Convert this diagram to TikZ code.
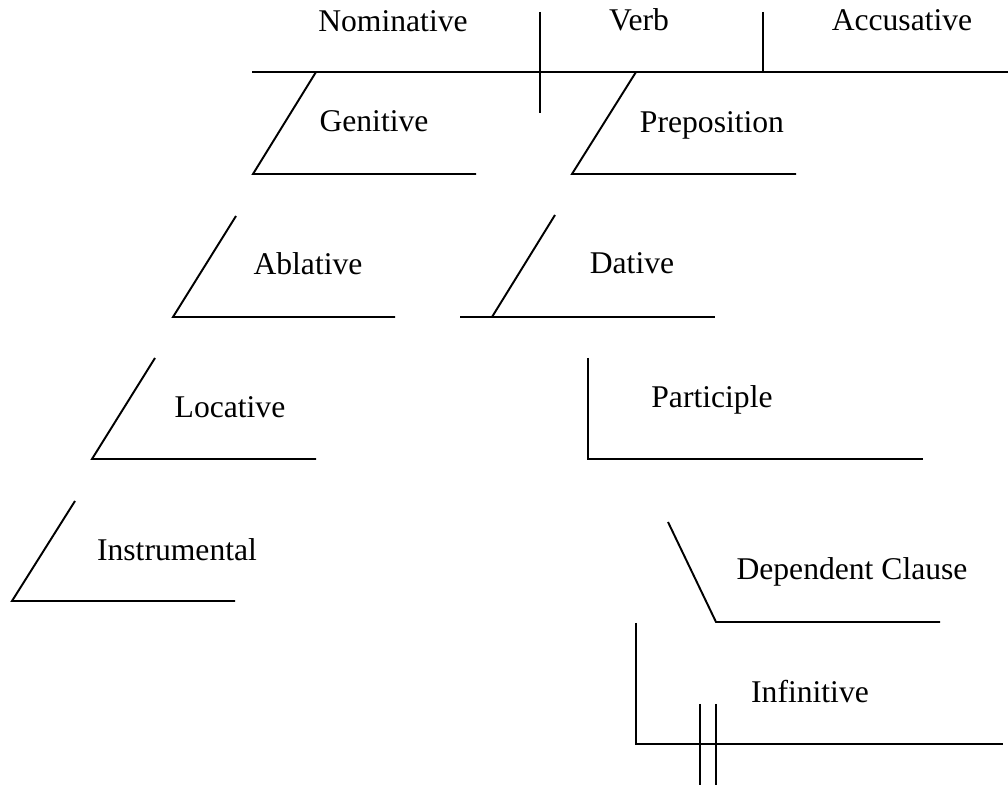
\documentclass[tikz,border=0pt]{standalone}
\usepackage{fontspec}
\setmainfont{Liberation Serif}
\usepackage{tikz}
\usetikzlibrary{calc, positioning}

\begin{document}
\begin{tikzpicture}[
  x=0.02cm, y=-0.02cm,
  every node/.style={font=\fontsize{18}{20}\selectfont, anchor=base, inner sep=0pt},
  rule/.style={draw, line width=1.1pt, line join=miter},
  word/.style={text=black}
]
\useasboundingbox (0,0) rectangle (1008,786);

% base line and dividers
\coordinate (base-l) at (252,72);
\coordinate (base-r) at (1008,72);
\coordinate (subj-t) at (540,12);
\coordinate (subj-b) at (540,113);
\coordinate (obj-t) at (763,12);
\coordinate (obj-b) at (763,72);
\draw[rule] (base-l) -- (base-r);
\draw[rule] (subj-t) -- (subj-b);
\draw[rule] (obj-t) -- (obj-b);

\node[word] (nom) at (393,32) {Nominative};
\node[word] (verb) at (639,31) {Verb};
\node[word] (acc) at (902,31) {Accusative};

% modifiers
\coordinate (gen-a) at (316,72);
\coordinate (gen-b) at (253,174);
\coordinate (gen-c) at (476,174);
\draw[rule] (gen-a) -- (gen-b) -- (gen-c);
\node[word] (gen) at (374,132) {Genitive};

\coordinate (prep-a) at (636,72);
\coordinate (prep-b) at (572,174);
\coordinate (prep-c) at (796,174);
\draw[rule] (prep-a) -- (prep-b) -- (prep-c);
\node[word] (prep) at (712,133) {Preposition};

\coordinate (abl-a) at (236,216);
\coordinate (abl-b) at (173,317);
\coordinate (abl-c) at (395,317);
\draw[rule] (abl-a) -- (abl-b) -- (abl-c);
\node[word] (abl) at (308,275) {Ablative};

\coordinate (dat-a) at (555,215);
\coordinate (dat-b) at (492,317);
\coordinate (dat-l) at (460,317);
\coordinate (dat-c) at (715,317);
\draw[rule] (dat-a) -- (dat-b);
\draw[rule] (dat-l) -- (dat-c);
\node[word] (dat) at (632,274) {Dative};

\coordinate (loc-a) at (155,358);
\coordinate (loc-b) at (92,459);
\coordinate (loc-c) at (316,459);
\draw[rule] (loc-a) -- (loc-b) -- (loc-c);
\node[word] (loc) at (230,418) {Locative};

\coordinate (part-a) at (588,358);
\coordinate (part-b) at (588,459);
\coordinate (part-c) at (923,459);
\draw[rule] (part-a) -- (part-b) -- (part-c);
\node[word] (part) at (712,408) {Participle};

\coordinate (instr-a) at (75,501);
\coordinate (instr-b) at (12,601);
\coordinate (instr-c) at (235,601);
\draw[rule] (instr-a) -- (instr-b) -- (instr-c);
\node[word] (instr) at (177,561) {Instrumental};

\coordinate (dep-a) at (668,522);
\coordinate (dep-b) at (716,622);
\coordinate (dep-c) at (940,622);
\draw[rule] (dep-a) -- (dep-b) -- (dep-c);
\node[word] (dep) at (852,580) {Dependent Clause};

\coordinate (inf-a) at (636,623);
\coordinate (inf-b) at (636,744);
\coordinate (inf-c) at (1003,744);
\draw[rule] (inf-a) -- (inf-b) -- (inf-c);
\coordinate (bar1-t) at (700,704);
\coordinate (bar1-b) at (700,785);
\coordinate (bar2-t) at (716,704);
\coordinate (bar2-b) at (716,785);
\draw[rule] (bar1-t) -- (bar1-b);
\draw[rule] (bar2-t) -- (bar2-b);
\node[word] (inf) at (810,703) {Infinitive};

\end{tikzpicture}
\end{document}
